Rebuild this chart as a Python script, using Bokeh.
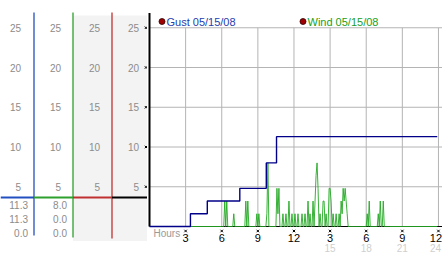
from bokeh.plotting import figure
from bokeh.layouts import row
from bokeh.models import Range1d, BoxAnnotation
from bokeh.core.properties import value
from bokeh.embed import file_html
from bokeh.resources import INLINE

# ---------------- data ----------------
y_ticks = [5, 10, 15, 20, 25]
y_tick_labels = ["5", "10", "15", "20", "25"]
hour_ticks = [3, 6, 9, 12, 15, 18, 21, 24]
hour_labels = ["3", "6", "9", "12", "3", "6", "9", "12"]
pm_ticks = [15, 18, 21, 24]
pm_labels = ["15", "18", "21", "24"]

gust_hours = [0.0, 3.4, 4.8, 7.5, 9.7, 10.55, 23.9]
gust_values = [0.0, 1.6, 3.2, 4.8, 8.0, 11.3, 11.3]

wind_start_hour = 6.0      # first 5-minute reading shown
wind_step_min = 5
wind_values = [
    0, 0, 0, 3.2, 0, 3.2, 0, 0, 0, 0, 0, 0,
    1.6, 0, 0, 0, 0, 0, 0, 0, 0, 0, 0, 0,
    3.2, 0, 3.2, 0, 0, 0, 0, 0, 0, 0, 0, 1.6,
    0, 1.6, 0, 0, 0, 0, 0, 0, 0, 1.6, 8.0, 0,
    0, 0, 0, 0, 0, 0, 0, 4.8, 1.6, 4.8, 0, 0,
    0, 1.6, 0, 0, 1.6, 0, 0, 3.2, 0, 0, 1.6, 0,
    0, 1.6, 0, 0, 1.6, 0, 0, 0, 1.6, 0, 0, 1.6,
    0, 0, 3.2, 0, 1.6, 0, 0, 3.2, 0, 3.2, 6.4, 8.0,
    4.8, 0, 1.6, 0, 0, 3.2, 3.2, 0, 1.6, 0, 0, 4.8,
    4.8, 3.2, 0, 1.6, 0, 0, 1.6, 0, 0, 1.6, 0, 3.2,
    1.6, 4.8, 3.2, 4.8, 3.2, 1.6, 0, 0, 0, 0, 0, 0,
    0, 0, 0, 0, 0, 0, 0, 0, 0, 0, 0, 0,
    0, 1.6, 0, 3.2, 0, 0, 0, 0, 0, 0, 0, 0,
    1.6, 0, 3.2, 0, 0, 3.2, 0, 0, 0, 0, 0, 0,
]
day_start_hour = 0.0
day_end_hour = 23.9

gust_stats = ["11.3", "11.3", "0.0"]
wind_stats = ["8.0", "0.0", "0.0"]
legend_labels = ["Gust 05/15/08", "Wind 05/15/08"]

# ---------------- layout helpers ----------------
PX_PER_UNIT = 7.95
BASE_PY = 226.0
PX_PER_HOUR = 12.04
AXIS_PX = 149.0

def vy(py):
    return (BASE_PY - py) / PX_PER_UNIT

def hx(px):
    return (px - AXIS_PX) / PX_PER_HOUR

FONT = value("Liberation Sans")
GRAY_TXT = "#8c8c8c"
GRID = "#b4b4b4"
BLUE = "#2350c0"
GREEN = "#2ea02e"
RED = "#c03030"

y_range = Range1d(vy(253), vy(0))

# ---------------- left stats panel ----------------
left = figure(width=147, height=253, output_backend="svg", toolbar_location=None,
              x_range=Range1d(0, 147), y_range=y_range,
              x_axis_location=None, y_axis_location=None, min_border=0,
              outline_line_color=None, background_fill_color="white",
              border_fill_color="white")
left.grid.visible = False

left.add_layout(BoxAnnotation(left=72.5, right=147, bottom=vy(240.5), top=vy(15),
                              fill_color="#f3f3f3", fill_alpha=1, line_color=None,
                              level="underlay"))

for xr in [20.5, 60.5, 99.5, 138.5]:
    left.text(x=[xr] * len(y_ticks), y=y_ticks, text=y_tick_labels,
              text_font=FONT, text_font_size="10px", text_color=GRAY_TXT,
              text_align="right", text_baseline="middle")

stat_rows = [vy(204.5), vy(218.5), vy(232)]
left.text(x=[27.5] * 3, y=stat_rows, text=gust_stats, text_font=FONT,
          text_font_size="10px", text_color=GRAY_TXT, text_align="right",
          text_baseline="middle")
left.text(x=[66.5] * 3, y=stat_rows, text=wind_stats, text_font=FONT,
          text_font_size="10px", text_color=GRAY_TXT, text_align="right",
          text_baseline="middle")

# vertical coloured separators
left.segment(x0=[33.5], y0=[vy(235)], x1=[33.5], y1=[vy(12)], line_color=BLUE, line_width=1.3)
left.segment(x0=[72.5], y0=[vy(237)], x1=[72.5], y1=[vy(12)], line_color=GREEN, line_width=1.3)
left.segment(x0=[111.5], y0=[vy(238)], x1=[111.5], y1=[vy(12)], line_color=RED, line_width=1.3)
# horizontal coloured bar
left.segment(x0=[0, 33.5, 72.5, 111.5], y0=[vy(197)] * 4,
             x1=[33.5, 72.5, 111.5, 147], y1=[vy(197)] * 4,
             line_color=[BLUE, GREEN, RED, "black"], line_width=2.2)
# y tick marks
left.scatter(x=[145.5] * len(y_ticks), y=y_ticks, marker="x", size=3.5,
             line_color="black", line_width=1)

# ---------------- main chart ----------------
p = figure(width=295, height=253, output_backend="svg", toolbar_location=None,
           x_range=Range1d(hx(147), hx(442)), y_range=y_range,
           x_axis_location=None, y_axis_location=None, min_border=0,
           outline_line_color=None, background_fill_color="white",
           border_fill_color="white")
p.grid.visible = False

# grid
p.segment(x0=[0] * len(y_ticks), y0=y_ticks, x1=[hx(442)] * len(y_ticks), y1=y_ticks,
          line_color=GRID, line_width=1)
p.segment(x0=hour_ticks, y0=[0] * len(hour_ticks), x1=hour_ticks,
          y1=[max(y_ticks)] * len(hour_ticks), line_color=GRID, line_width=1)

# axes lines
p.segment(x0=[0], y0=[0], x1=[0], y1=[vy(12.5)], line_color="black", line_width=2)
p.segment(x0=[0], y0=[0], x1=[hx(442)], y1=[0], line_color="black", line_width=1.2)

# wind
wind_hours = [day_start_hour] + [wind_start_hour + i * wind_step_min / 60.0
                                 for i in range(len(wind_values))] + [day_end_hour]
wind_series = [0.0] + wind_values + [0.0]
p.line(x=wind_hours, y=wind_series, line_color="#22a822", line_width=0.9)

# gust
p.step(x=gust_hours, y=gust_values, mode="after", line_color="#000088", line_width=1.4)

# hour ticks and labels
n = len(hour_ticks)
p.scatter(x=hour_ticks, y=[vy(230.5)] * n, marker="x", size=3.5,
          line_color="black", line_width=1)
p.text(x=hour_ticks, y=[vy(237.5)] * n, text=hour_labels, text_font=FONT,
       text_font_size="11px", text_color="black", text_align="center",
       text_baseline="middle", x_offset=[0] * (n - 1) + [-2.5])
p.text(x=pm_ticks, y=[vy(247.5)] * len(pm_ticks), text=pm_labels, text_font=FONT,
       text_font_size="10px", text_color="#cfcfcf", text_align="center",
       text_baseline="middle", x_offset=[0] * (len(pm_ticks) - 1) + [-3])
p.text(x=[hx(153)], y=[vy(232.5)], text=["Hours"], text_font=FONT, text_font_size="10px",
       text_color="#999999", text_align="left", text_baseline="middle")

# legend
p.scatter(x=[hx(161.5), hx(302.5)], y=[vy(21)] * 2, marker="circle", size=6,
          fill_color="#a00000", line_color="#300000", line_width=0.8)
p.text(x=[hx(166), hx(307)], y=[vy(21)] * 2, text=legend_labels, text_font=FONT,
       text_font_size="11px", text_color=["#2340b0", "#20a020"], text_align="left",
       text_baseline="middle")

layout = row(left, p, spacing=0)
open("out.html", "w").write(file_html(layout, INLINE))
